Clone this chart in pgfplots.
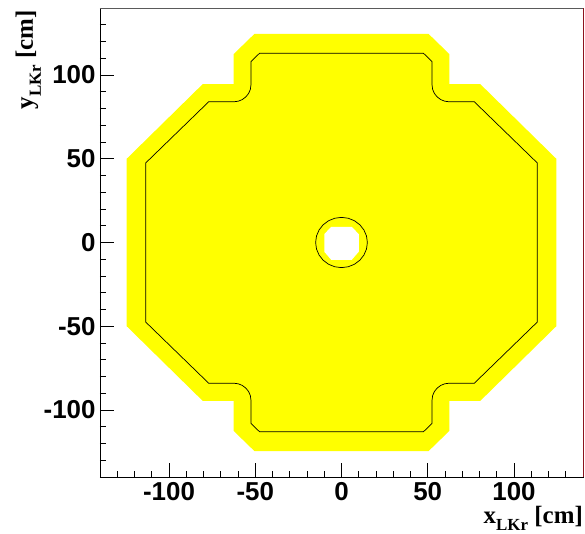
\documentclass[border=0pt]{standalone}
\usepackage{pgfplots}
\pgfplotsset{compat=1.18}
\usetikzlibrary{calc}
\usepackage{fontspec}
\setmainfont{Liberation Serif}
\setsansfont{Liberation Sans}
\definecolor{spinered}{RGB}{140,20,30}
\definecolor{topgray}{RGB}{90,90,90}
\definecolor{rootyellow}{RGB}{255,255,0}
\begin{document}
\begin{tikzpicture}
\begin{axis}[
  name=ax,
  at={(0,0)}, anchor=south west,
  scale only axis, width=483bp, height=469bp,
  xmin=-140, xmax=140, ymin=-140, ymax=140,
  xtick={-150,-100,-50,0,50,100,150},
  ytick={-150,-100,-50,0,50,100,150},
  xticklabels={-150,-100,-50,0,50,100,150},
  yticklabels={-150,-100,-50,0,50,100,150},
  minor x tick num=4, minor y tick num=4,
  tick align=inside, tickpos=left,
  major tick length=14bp, minor tick length=6bp,
  tick style={black, line width=0.9bp},
  ticklabel style={font=\fontsize{26}{26}\selectfont\sffamily\bfseries},
  xticklabel style={yshift=-2bp},
  yticklabel style={xshift=-1bp},
  axis line style={line width=0.9bp},
  axis on top,
]
% outer yellow acceptance region
\addplot[fill=rootyellow, draw=none] coordinates {
 (124.5,-50) (124.5,50) (80.5,94.5) (62.5,94.5) (62.5,112.5) (50.5,124.5)
 (-50.5,124.5) (-62.5,112.5) (-62.5,94.5) (-80.5,94.5) (-124.5,50)
 (-124.5,-50) (-80.5,-94.5) (-62.5,-94.5) (-62.5,-112.5) (-50.5,-124.5)
 (50.5,-124.5) (62.5,-112.5) (62.5,-94.5) (80.5,-94.5) (124.5,-50)
} -- cycle;
% central hole
\addplot[fill=white, draw=none] coordinates {
 (10,-5.5) (10,5) (6,9.3) (-6,9.3) (-10,5) (-10,-5.5) (-6,-10.3) (6,-10.3) (10,-5.5)
} -- cycle;
% black outline
\addplot[black, line width=0.7bp] coordinates {
 (113.5,-47.5) (113.5,47.5) (77,84) (62.5,84) (59.91,84.34) (57.5,85.34) (55.43,86.93) (53.84,89) (52.84,91.41) (52.5,94) (52.5,108) (47.5,113)
 (-47.5,113) (-52.5,108) (-52.5,94) (-52.84,91.41) (-53.84,89) (-55.43,86.93) (-57.5,85.34) (-59.91,84.34) (-62.5,84) (-77,84) (-113.5,47.5)
 (-113.5,-47.5) (-77,-84) (-62.5,-84) (-59.91,-84.34) (-57.5,-85.34) (-55.43,-86.93) (-53.84,-89) (-52.84,-91.41) (-52.5,-94) (-52.5,-108) (-47.5,-113)
 (47.5,-113) (52.5,-108) (52.5,-94) (52.84,-91.41) (53.84,-89) (55.43,-86.93) (57.5,-85.34) (59.91,-84.34) (62.5,-84) (77,-84) (113.5,-47.5)
} -- cycle;
% circle r = 15
\addplot[black, line width=0.7bp] coordinates {
 (15,0) (14.49,3.88) (12.99,7.5) (10.61,10.61) (7.5,12.99) (3.88,14.49) (0,15)
 (-3.88,14.49) (-7.5,12.99) (-10.61,10.61) (-12.99,7.5) (-14.49,3.88) (-15,0)
 (-14.49,-3.88) (-12.99,-7.5) (-10.61,-10.61) (-7.5,-12.99) (-3.88,-14.49) (0,-15)
 (3.88,-14.49) (7.5,-12.99) (10.61,-10.61) (12.99,-7.5) (14.49,-3.88) (15,0)
} -- cycle;
\end{axis}
\draw[topgray, line width=0.8bp] (ax.north west) -- (ax.north east);
\draw[spinered, line width=1bp] (ax.south east) -- (ax.north east);
\node[anchor=base east, inner sep=0pt, font=\fontsize{25}{25}\selectfont\bfseries]
  at ($(ax.south east)+(0,-46bp)$) {x\raisebox{-7bp}{\fontsize{17}{17}\selectfont LKr} [cm]};
\node[anchor=base east, rotate=90, inner sep=0pt, font=\fontsize{25}{25}\selectfont\bfseries]
  at ($(ax.north west)+(-67bp,-2bp)$) {y\raisebox{-8bp}{\fontsize{17}{17}\selectfont LKr} [cm]};
\pgfresetboundingbox
\path ($(ax.south west)+(-100bp,-57bp)$) rectangle ($(ax.north east)+(2bp,8bp)$);
\end{tikzpicture}
\end{document}
